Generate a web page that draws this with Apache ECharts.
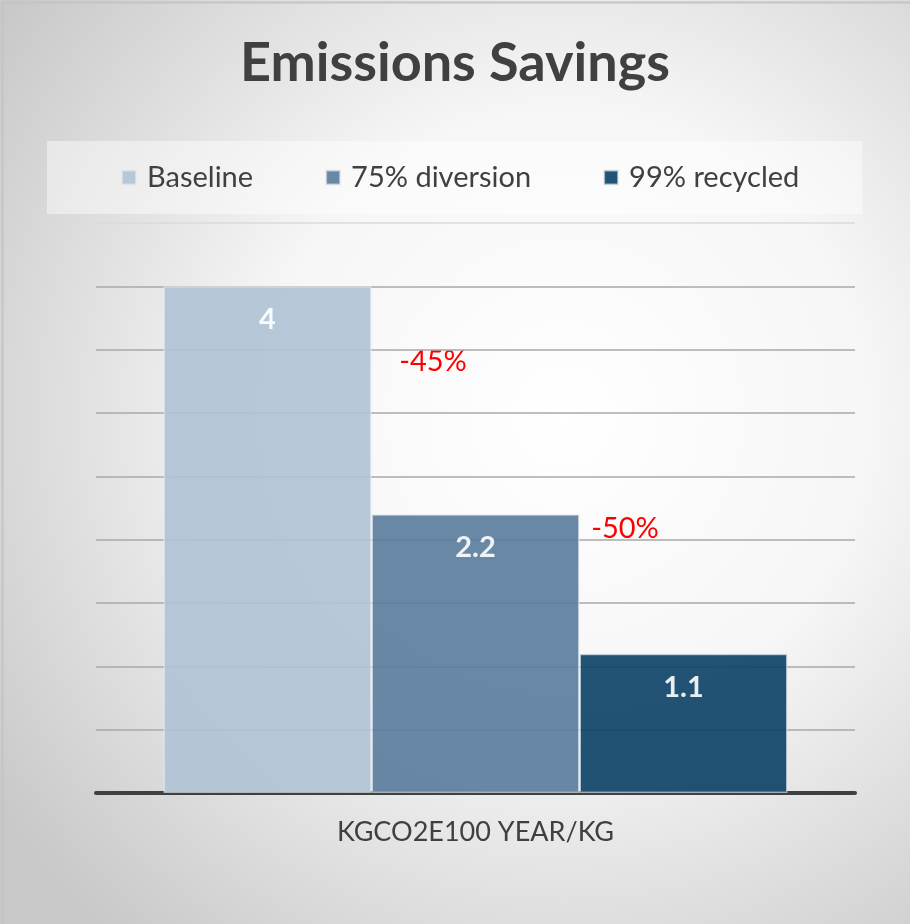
<!DOCTYPE html>
<html>
<head>
<meta charset="utf-8">
<script src="https://cdn.jsdelivr.net/npm/echarts@6/dist/echarts.min.js"></script>
<style>
  html, body { margin: 0; padding: 0; }
  #chart { width: 910px; height: 924px; }
</style>
</head>
<body>
<div id="chart"></div>
<script>
// chart data
const categories = ['KGCO2E100 YEAR/KG'];
const seriesNames = ['Baseline', '75% diversion', '99% recycled'];
const seriesValues = [[4], [2.2], [1.1]];
const seriesColors = ['#afc3d4', '#597b9c', '#0a3f65'];
const savingsLabels = ['-45%', '-50%'];

const chart = echarts.init(document.getElementById('chart'));

const series = seriesNames.map((name, i) => ({
  name: name,
  type: 'bar',
  data: seriesValues[i],
  barWidth: 208,
  barGap: '0%',
  itemStyle: {
    color: seriesColors[i],
    opacity: 0.9,
    borderColor: 'rgba(225,233,241,0.7)',
    borderWidth: 1.5
  },
  label: {
    show: true,
    position: 'insideTop',
    distance: 19,
    color: '#ffffff',
    fontFamily: 'Lato',
    fontWeight: 'bold',
    fontSize: 29,
    formatter: '{c}'
  }
}));

// grid line colours, top line fades out
const gridColors = ['#a8a8a8', '#a8a8a8', '#a8a8a8', '#a8a8a8', '#a8a8a8',
  '#a8a8a8', '#a8a8a8', '#a8a8a8', '#a8a8a8', '#dadada'];

const option = {
  backgroundColor: {
    type: 'radial', x: 0.62, y: 0.45, r: 0.75,
    colorStops: [
      { offset: 0, color: '#ffffff' },
      { offset: 0.45, color: '#f6f6f6' },
      { offset: 1, color: '#c9c9c9' }
    ]
  },
  title: {
    text: 'Emissions Savings',
    left: 'center',
    top: 32,
    textStyle: {
      fontFamily: 'Lato',
      fontWeight: 'bold',
      fontSize: 54,
      color: '#404040'
    }
  },
  legend: {
    left: 47,
    top: 141,
    padding: [22, 63, 22, 74],
    backgroundColor: 'rgba(255,255,255,0.45)',
    itemWidth: 14,
    itemHeight: 14,
    itemGap: 72,
    icon: 'rect',
    textStyle: {
      fontFamily: 'Lato',
      fontSize: 29,
      color: '#404040',
      padding: [0, 0, 0, 6]
    },
    data: seriesNames
  },
  grid: {
    left: 96,
    right: 55,
    top: 223,
    bottom: 131
  },
  xAxis: {
    type: 'category',
    data: categories,
    axisLine: { lineStyle: { color: '#404040', width: 4 } },
    axisTick: { show: false },
    axisLabel: {
      margin: 26,
      fontFamily: 'Lato',
      fontSize: 27,
      color: '#404040'
    }
  },
  yAxis: {
    type: 'value',
    min: 0,
    max: 4.5,
    interval: 0.5,
    axisLabel: { show: false },
    axisLine: { show: false },
    axisTick: { show: false },
    splitLine: { lineStyle: { color: gridColors, width: 1.5 } }
  },
  graphic: [
    {
      type: 'rect',
      left: 0, top: 0,
      shape: { width: 909, height: 923 },
      style: { fill: 'none', stroke: '#c4c4c4', lineWidth: 2 },
      silent: true
    },
    {
      type: 'text',
      x: 433, y: 362,
      style: {
        text: savingsLabels[0],
        fill: '#ff0000',
        font: '29px Lato',
        align: 'center',
        verticalAlign: 'middle'
      }
    },
    {
      type: 'text',
      x: 625, y: 529,
      style: {
        text: savingsLabels[1],
        fill: '#ff0000',
        font: '29px Lato',
        align: 'center',
        verticalAlign: 'middle'
      }
    }
  ],
  series: series
};

chart.setOption(option);
</script>
</body>
</html>
